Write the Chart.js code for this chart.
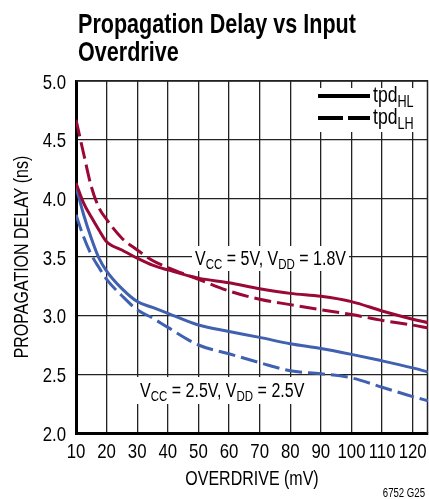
<!DOCTYPE html>
<html>
<head>
<meta charset="utf-8">
<script src="https://cdn.jsdelivr.net/npm/chart.js@4/dist/chart.umd.min.js"></script>
<style>
  body { margin: 0; background: #fff; }
  canvas { display: block; }
</style>
</head>
<body>
<canvas id="delayChart" width="429" height="499"></canvas>
<script>
const overdrive = [10, 12.5, 15, 17.5, 20, 25, 30, 35, 40, 50, 60, 70, 80, 90, 100, 110, 120, 125];

// VCC = 5V, VDD = 1.8V
const tpdHL5V = [4.13, 3.96, 3.84, 3.73, 3.63, 3.56, 3.49, 3.43, 3.39, 3.32, 3.28, 3.23, 3.19, 3.165, 3.12, 3.04, 2.97, 2.94];
const tpdLH5V = [4.67, 4.38, 4.1, 3.92, 3.82, 3.66, 3.56, 3.47, 3.41, 3.31, 3.21, 3.14, 3.094, 3.05, 3.01, 2.96, 2.92, 2.895];

// VCC = 2.5V, VDD = 2.5V
const tpdHL25V = [4.1, 3.86, 3.66, 3.49, 3.38, 3.23, 3.12, 3.07, 3.02, 2.92, 2.865, 2.815, 2.76, 2.72, 2.67, 2.615, 2.555, 2.52];
const tpdLH25V = [3.86, 3.67, 3.52, 3.41, 3.31, 3.17, 3.05, 2.98, 2.9, 2.75, 2.675, 2.6, 2.53, 2.505, 2.47, 2.39, 2.31, 2.275];

const xTicks = [10, 20, 30, 40, 50, 60, 70, 80, 90, 100, 110, 120];
const yTicks = [2.0, 2.5, 3.0, 3.5, 4.0, 4.5, 5.0];

const RED = "#9a0835";
const BLUE = "#4060b0";
const FONT = "'Liberation Sans', Arial, sans-serif";
const NARROW = 0.8; // fake condensed face

function toPoints(values) {
	return overdrive.map((x, i) => ({ x: x, y: values[i] }));
}

function makeDataset(label, values, color, dashed) {
	return {
		label: label,
		data: toPoints(values),
		borderColor: color,
		borderWidth: 3,
		borderDash: dashed ? [17, 6] : [],
		pointRadius: 0,
		fill: false,
		cubicInterpolationMode: "monotone",
	};
}

// text squeezed horizontally, returns drawn width
function narrowText(ctx, text, x, y, size, opts = {}) {
	ctx.font = (opts.bold ? "bold " : "") + size + "px " + FONT;
	const sx = opts.scale || NARROW;
	const w = ctx.measureText(text).width * sx;
	let left = x;
	if (opts.align === "center") left = x - w / 2;
	if (opts.align === "right") left = x - w;
	ctx.save();
	ctx.translate(left, y);
	ctx.scale(sx, 1);
	ctx.textAlign = "left";
	ctx.fillText(text, 0, 0);
	ctx.restore();
	return w;
}

// parts = [[text, isSub], ...]
function subText(ctx, parts, x, y, size) {
	let cx = x;
	parts.forEach(([text, sub]) => {
		cx += narrowText(ctx, text, cx, sub ? y + size * 0.22 : y, sub ? size * 0.72 : size);
	});
	return cx - x;
}

function subWidth(ctx, parts, size) {
	let w = 0;
	parts.forEach(([text, sub]) => {
		ctx.font = (sub ? size * 0.72 : size) + "px " + FONT;
		w += ctx.measureText(text).width * NARROW;
	});
	return w;
}

const decorations = {
	id: "decorations",
	beforeDatasetsDraw(chart) {
		const ctx = chart.ctx;
		const area = chart.chartArea;
		ctx.save();

		// top and right frame lines
		ctx.strokeStyle = "#222";
		ctx.lineWidth = 1.5;
		ctx.beginPath();
		ctx.moveTo(area.left, area.top);
		ctx.lineTo(area.right - 0.5, area.top);
		ctx.lineTo(area.right - 0.5, area.bottom);
		ctx.stroke();

		// curve labels with white backing
		const label5 = [["V", false], ["CC", true], [" = 5V, V", false], ["DD", true], [" = 1.8V", false]];
		ctx.fillStyle = "#fff";
		ctx.fillRect(192, 246, subWidth(ctx, label5, 20) + 6, 25);
		ctx.fillStyle = "#000";
		subText(ctx, label5, 195, 265, 20);

		const label25 = [["V", false], ["CC", true], [" = 2.5V, V", false], ["DD", true], [" = 2.5V", false]];
		ctx.fillStyle = "#fff";
		ctx.fillRect(137, 377, subWidth(ctx, label25, 20) + 6, 27);
		ctx.fillStyle = "#000";
		subText(ctx, label25, 140, 397, 20);

		// legend
		ctx.fillStyle = "#fff";
		ctx.fillRect(314, 88, 108, 44);
		ctx.strokeStyle = "#000";
		ctx.lineWidth = 4;
		ctx.beginPath();
		ctx.moveTo(318, 96);
		ctx.lineTo(370, 96);
		ctx.moveTo(318, 118);
		ctx.lineTo(343, 118);
		ctx.moveTo(348, 118);
		ctx.lineTo(370, 118);
		ctx.stroke();
		ctx.fillStyle = "#000";
		subText(ctx, [["tpd", false], ["HL", true]], 373, 102, 22);
		subText(ctx, [["tpd", false], ["LH", true]], 373, 124, 22);

		ctx.restore();
	},
	afterDraw(chart) {
		const ctx = chart.ctx;
		const xs = chart.scales.x;
		const ys = chart.scales.y;
		ctx.save();
		ctx.fillStyle = "#000";

		// tick labels
		xTicks.forEach((v) => {
			narrowText(ctx, String(v), xs.getPixelForValue(v), 458, 21, { align: "center" });
		});
		yTicks.forEach((v) => {
			narrowText(ctx, v.toFixed(1), 66, ys.getPixelForValue(v) + 7.5, 21, { align: "right" });
		});

		// title
		narrowText(ctx, "Propagation Delay vs Input", 78, 33, 28, { bold: true, scale: 0.77 });
		narrowText(ctx, "Overdrive", 78, 61, 28, { bold: true, scale: 0.77 });

		// axis titles
		narrowText(ctx, "OVERDRIVE (mV)", 252, 485, 20, { align: "center" });
		ctx.save();
		ctx.translate(28, 257);
		ctx.rotate(-Math.PI / 2);
		narrowText(ctx, "PROPAGATION DELAY (ns)", 0, 0, 20, { align: "center" });
		ctx.restore();

		narrowText(ctx, "6752 G25", 425, 497, 12, { align: "right" });
		ctx.restore();
	},
};

const ctx = document.getElementById("delayChart").getContext("2d");

new Chart(ctx, {
	type: "line",
	data: {
		datasets: [
			makeDataset("tpdHL 5V", tpdHL5V, RED, false),
			makeDataset("tpdLH 5V", tpdLH5V, RED, true),
			makeDataset("tpdHL 2.5V", tpdHL25V, BLUE, false),
			makeDataset("tpdLH 2.5V", tpdLH25V, BLUE, true),
		],
	},
	options: {
		responsive: false,
		animation: false,
		layout: { padding: { top: 81, right: 1, left: 0, bottom: 0 } },
		plugins: {
			legend: { display: false },
			tooltip: { enabled: false },
		},
		scales: {
			x: {
				type: "linear",
				min: 10,
				max: 125,
				afterBuildTicks: (scale) => {
					scale.ticks = xTicks.map((v) => ({ value: v }));
				},
				afterFit: (scale) => {
					scale.height = 66;
				},
				grid: { color: "#222", lineWidth: 1.3, drawTicks: false },
				border: { color: "#000", width: 3 },
				ticks: { display: false },
			},
			y: {
				type: "linear",
				min: 2,
				max: 5,
				afterBuildTicks: (scale) => {
					scale.ticks = yTicks.map((v) => ({ value: v }));
				},
				afterFit: (scale) => {
					scale.width = 76;
				},
				grid: { color: "#222", lineWidth: 1.3, drawTicks: false },
				border: { color: "#000", width: 3 },
				ticks: { display: false },
			},
		},
	},
	plugins: [decorations],
});
</script>
</body>
</html>
